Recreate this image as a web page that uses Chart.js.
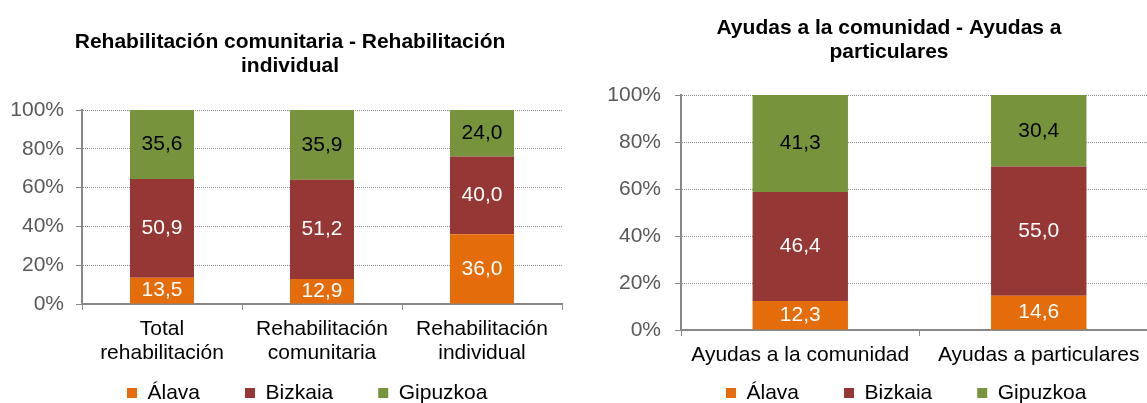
<!DOCTYPE html>
<html>
<head>
<meta charset="utf-8">
<script src="https://cdn.jsdelivr.net/npm/chart.js@4"></script>
<style>
  body { margin: 0; width: 1147px; height: 403px; overflow: hidden; position: relative; background: #fff; }
  canvas { position: absolute; top: 0; }
  #leftChart { left: 0; }
  #rightChart { left: 580px; }
</style>
</head>
<body>
<canvas id="leftChart" width="580" height="450"></canvas>
<canvas id="rightChart" width="618" height="451"></canvas>
<script>
// data
const seriesNames = ['Álava', 'Bizkaia', 'Gipuzkoa'];
const seriesColors = ['#E46C0A', '#953735', '#77933C'];
const labelColors = ['#ffffff', '#ffffff', '#000000'];

const leftTitle = ['Rehabilitación comunitaria - Rehabilitación', 'individual'];
const leftCategories = [['Total', 'rehabilitación'], ['Rehabilitación', 'comunitaria'], ['Rehabilitación', 'individual']];
const leftAlava = [13.5, 12.9, 36.0];
const leftBizkaia = [50.9, 51.2, 40.0];
const leftGipuzkoa = [35.6, 35.9, 24.0];

const rightTitle = ['Ayudas a la comunidad - Ayudas a', 'particulares'];
const rightCategories = ['Ayudas a la comunidad', 'Ayudas a particulares'];
const rightAlava = [12.3, 14.6];
const rightBizkaia = [46.4, 55.0];
const rightGipuzkoa = [41.3, 30.4];

const yTicks = [0, 20, 40, 60, 80, 100];

const FONT = 'Liberation Sans, Arial, sans-serif';
const GRAY = '#888888';

// draws the value inside each bar segment
const barValues = {
    id: 'barValues',
    afterDatasetsDraw(chart) {
        const ctx = chart.ctx;
        ctx.save();
        ctx.font = '21px ' + FONT;
        ctx.textAlign = 'center';
        ctx.textBaseline = 'middle';
        chart.data.datasets.forEach((ds, i) => {
            const meta = chart.getDatasetMeta(i);
            meta.data.forEach((bar, j) => {
                ctx.fillStyle = labelColors[i];
                const y = (bar.y + bar.base) / 2;
                ctx.fillText(ds.data[j].toFixed(1).replace('.', ','), bar.x, y);
            });
        });
        ctx.restore();
    }
};

function makeChart(id, title, categories, alava, bizkaia, gipuzkoa, sizes) {
    const values = [alava, bizkaia, gipuzkoa];

    // the legend sits closer to the axis than chart.js would put it
    const legendMove = {
        id: 'legendMove',
        afterLayout(chart) {
            const lg = chart.legend;
            const h = lg.bottom - lg.top;
            lg.top = sizes.legendTop;
            lg.bottom = lg.top + h;
        }
    };

    new Chart(document.getElementById(id), {
        type: 'bar',
        data: {
            labels: categories,
            datasets: seriesNames.map((name, i) => ({
                label: name,
                data: values[i],
                backgroundColor: seriesColors[i],
                borderWidth: 0,
                categoryPercentage: 1,
                barPercentage: 0.4
            }))
        },
        options: {
            responsive: false,
            animation: false,
            devicePixelRatio: 1,
            layout: { padding: 0 },
            plugins: {
                tooltip: { enabled: false },
                title: {
                    display: true,
                    text: title,
                    color: '#000',
                    font: { family: FONT, size: 21, weight: 'bold', lineHeight: 24 / 21 },
                    padding: { top: sizes.titleTop, bottom: sizes.titleBottom }
                },
                legend: {
                    position: 'bottom',
                    align: 'start',
                    fullSize: false,
                    labels: {
                        boxWidth: 10,
                        boxHeight: 10,
                        padding: 45,
                        color: '#000',
                        font: { family: FONT, size: 21 }
                    }
                }
            },
            scales: {
                x: {
                    stacked: true,
                    grid: { drawOnChartArea: false, drawTicks: true, tickLength: 6, tickColor: GRAY, offset: true },
                    border: { color: GRAY, width: 2 },
                    ticks: { color: '#000', padding: 7, maxRotation: 0, font: { family: FONT, size: 21, lineHeight: 24 / 21 } },
                    afterFit: s => { s.height = sizes.xHeight; }
                },
                y: {
                    stacked: true,
                    min: 0,
                    max: 100,
                    afterBuildTicks: s => { s.ticks = yTicks.map(v => ({ value: v })); },
                    grid: { color: '#8c8c8c', lineWidth: 1, tickLength: 6, tickColor: GRAY, tickBorderDash: [] },
                    border: { color: GRAY, width: 2, dash: [1, 1] },
                    ticks: { color: '#595959', padding: sizes.yPad, font: { family: FONT, size: 21 }, callback: v => v + '%' },
                    afterFit: s => { s.width = sizes.yWidth; }
                },
                spacer: {
                    position: 'right',
                    display: true,
                    grid: { display: false },
                    border: { display: false },
                    ticks: { display: false },
                    afterFit: s => { s.width = sizes.rightGap; }
                }
            }
        },
        plugins: [barValues, legendMove]
    });
}

makeChart('leftChart', leftTitle, leftCategories, leftAlava, leftBizkaia, leftGipuzkoa,
    { titleTop: 30, titleBottom: 32, xHeight: 70, yWidth: 82, yPad: 12, rightGap: 18, legendTop: 337.5 });
makeChart('rightChart', rightTitle, rightCategories, rightAlava, rightBizkaia, rightGipuzkoa,
    { titleTop: 16, titleBottom: 31, xHeight: 45, yWidth: 101, yPad: 14, rightGap: 40, legendTop: 337.5 });
</script>
</body>
</html>
